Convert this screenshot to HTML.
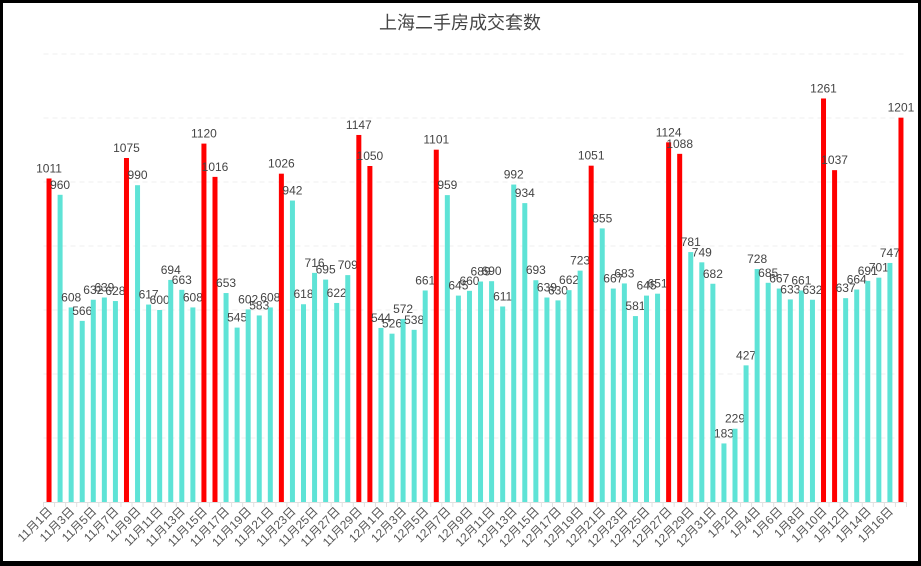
<!DOCTYPE html>
<html><head><meta charset="utf-8"><style>
html,body{margin:0;padding:0;background:#000;}
#wrap{position:absolute;left:3px;top:3px;width:915px;height:558px;background:#fff;}
svg{position:absolute;left:0;top:0;}
</style></head><body>
<div id="wrap"></div>
<svg id="chart" width="921" height="566" xmlns="http://www.w3.org/2000/svg"></svg>
<script>
const categories = [];
const monthsDef = [["11",30],["12",31],["1",17]];
for (const [m,n] of monthsDef) for (let d=1; d<=n; d++) categories.push(m+"月"+d+"日");
const values = [1011,960,608,566,632,639,628,1075,990,617,600,694,663,608,1120,1016,653,545,602,583,608,1026,942,618,716,695,622,709,1147,1050,
544,526,572,538,661,1101,959,645,660,689,690,611,992,934,693,639,630,662,723,1051,855,667,683,581,645,651,1124,1088,781,749,682,
183,229,427,728,685,667,633,661,632,1261,1037,637,664,691,701,747,1201];
const yTicks = [0,200,400,600,800,1000,1200,1400];
const threshold = 1000;

const svg = document.getElementById('chart');
const NS = 'http://www.w3.org/2000/svg';
const plotL = 43.5, plotR = 906.5, baseY = 502, topY = 54, yMax = 1400;
const band = (plotR - plotL) / categories.length;
const xc = i => plotL + band * (i + 0.5);
const y = v => baseY - (v / yMax) * (baseY - topY);
function mk(tag, attrs){ const e=document.createElementNS(NS,tag); for(const k in attrs) e.setAttribute(k,attrs[k]); svg.appendChild(e); return e; }

const title = mk('text',{x:460,y:29,'text-anchor':'middle','font-size':18,fill:'#464646','font-family':'"Liberation Sans","Noto Sans CJK SC",sans-serif'});
title.textContent = '上海二手房成交套数';



yTicks.forEach(t => {
  if (t === 0) return;
  const g = mk('line',{x1:plotL,x2:plotR,y1:y(t),y2:y(t),stroke:'#efefef','stroke-dasharray':'5,4','stroke-width':1});
  
  
});
const ax = mk('line',{x1:plotL,x2:plotR,y1:baseY+0.5,y2:baseY+0.5,stroke:'#e0e0e0','stroke-width':1});



values.forEach((v,i) => {
  const r = mk('rect',{x:xc(i)-2.5,y:y(v),width:5,height:baseY-y(v),fill: v>threshold ? '#ff0000' : '#5ee3d6'});
  
  
  const t = mk('text',{x:xc(i),y:y(v)-6,'text-anchor':'middle','font-size':12,fill:'#444','font-family':'"Liberation Sans",sans-serif'});
  t.textContent = v;
  
  
});
for (let i=0;i<=categories.length;i++){
  const tk = mk('line',{x1:plotL+band*i,x2:plotL+band*i,y1:baseY,y2:baseY+5,stroke:'#e0e0e0'});
  
  
}
categories.forEach((c,i) => {
  if (i % 2) return;
  const x = xc(i)+4, yy = 512;
  const t = mk('text',{x:x,y:yy,'text-anchor':'end','font-size':12,fill:'#555','font-family':'"Liberation Sans","Noto Sans CJK SC",sans-serif',transform:`rotate(-45 ${x} ${yy})`});
  t.textContent = c;
  
  
});
</script>
</body></html>
